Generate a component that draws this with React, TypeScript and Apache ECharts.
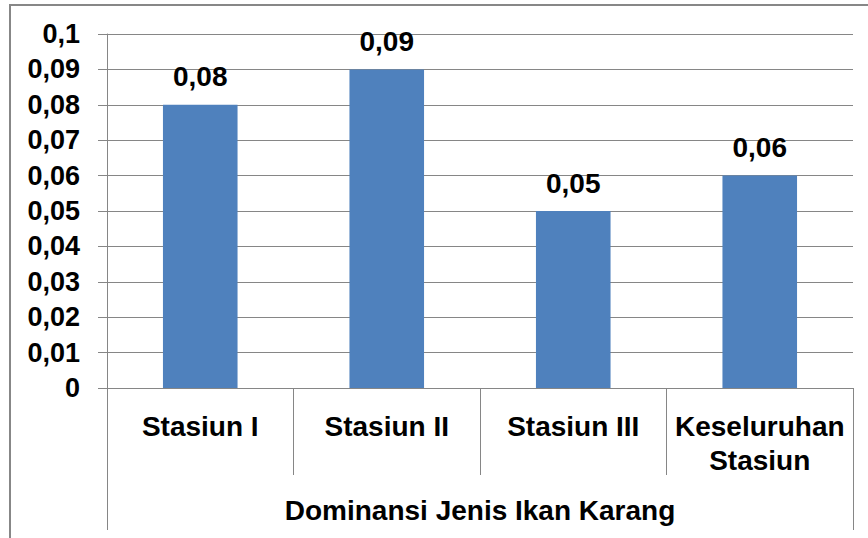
import React, { useEffect, useRef } from "react";
import * as echarts from "echarts";

const categories = ["Stasiun I", "Stasiun II", "Stasiun III", "Keseluruhan\nStasiun"];
const values = [0.08, 0.09, 0.05, 0.06];
const groupLabel = ["Dominansi Jenis Ikan Karang"];
const yMin = 0;
const yMax = 0.1;
const yStep = 0.01;

const fmt = (v: number) => (v === 0 ? "0" : String(+v.toFixed(2)).replace(".", ","));

export default function App() {
  const ref = useRef<HTMLDivElement>(null);
  useEffect(() => {
    if (!ref.current) return;
    const chart = echarts.init(ref.current, null, { renderer: "svg" });
    const gray = "#868686";
    const font = "'Liberation Sans', Arial, sans-serif";
    chart.setOption({
      animation: false,
      backgroundColor: "#ffffff",
      grid: { left: 107, right: 15, top: 34, bottom: 150, containLabel: false },
      graphic: [
        {
          type: "rect",
          shape: { x: 10, y: 5, width: 1000, height: 700 },
          style: { fill: "none", stroke: "#878787", lineWidth: 2 },
          silent: true,
          z: 100,
        },
      ],
      xAxis: [
        {
          type: "category",
          data: categories,
          position: "bottom",
          axisLine: { show: true, lineStyle: { color: gray, width: 1 } },
          axisTick: { show: true, length: 87, interval: 0, lineStyle: { color: gray } },
          axisLabel: {
            interval: 0,
            margin: 21,
            color: "#000",
            fontFamily: font,
            fontWeight: "bold",
            fontSize: 28,
            lineHeight: 34,
          },
        },
        {
          type: "category",
          data: groupLabel,
          position: "bottom",
          axisLine: { show: false },
          axisTick: { show: true, length: 142, lineStyle: { color: gray } },
          axisLabel: {
            margin: 106,
            color: "#000",
            fontFamily: font,
            fontWeight: "bold",
            fontSize: 28,
            lineHeight: 32,
          },
        },
      ],
      yAxis: {
        type: "value",
        min: yMin,
        max: yMax,
        interval: yStep,
        axisLine: { show: true, lineStyle: { color: gray } },
        axisTick: { show: true, length: 9, lineStyle: { color: gray } },
        splitLine: { show: true, lineStyle: { color: gray, width: 1 } },
        axisLabel: {
          formatter: fmt,
          margin: 27,
          color: "#000",
          fontFamily: font,
          fontWeight: "bold",
          fontSize: 27,
        },
      },
      series: [
        {
          type: "bar",
          data: values,
          xAxisIndex: 0,
          barWidth: "40%",
          itemStyle: { color: "#4F81BD" },
          label: {
            show: true,
            position: "top",
            distance: 14,
            formatter: (p: any) => fmt(p.value),
            color: "#000",
            fontFamily: font,
            fontWeight: "bold",
            fontSize: 28,
          },
        },
      ],
    });
    return () => chart.dispose();
  }, []);
  return (
    <div
      ref={ref}
      style={{ position: "fixed", left: 0, top: 0, width: 868, height: 538 }}
    />
  );
}
